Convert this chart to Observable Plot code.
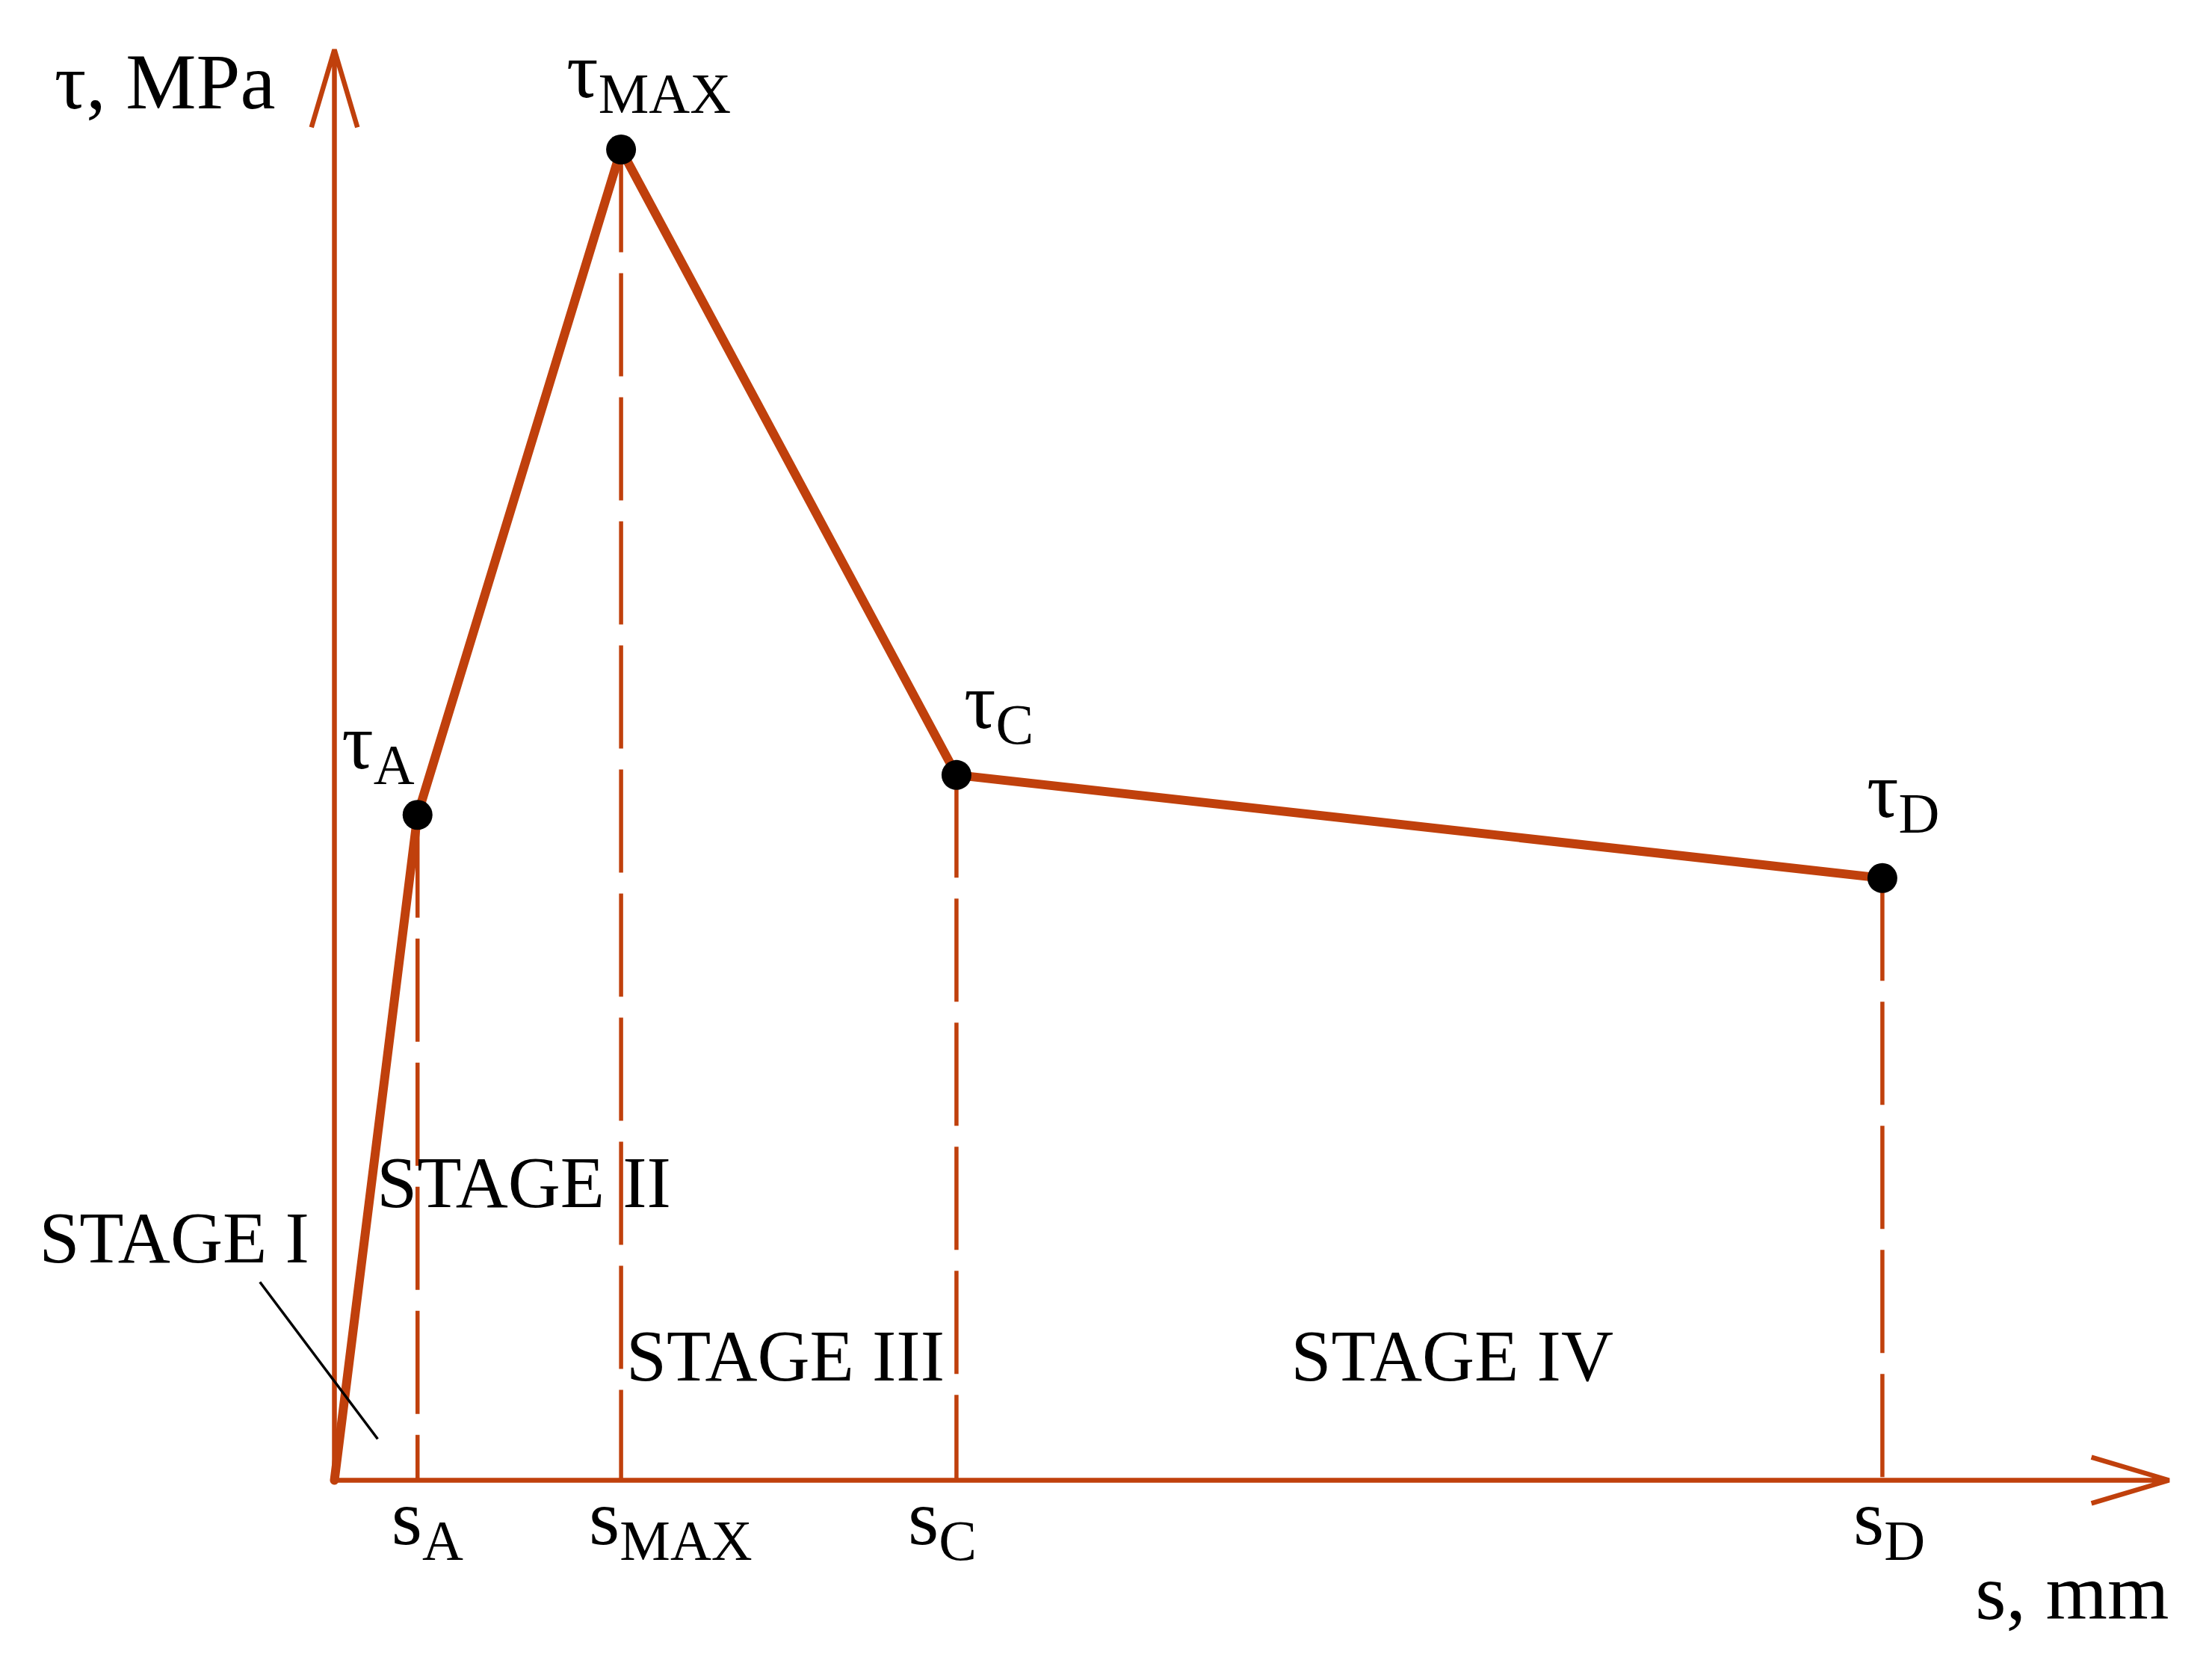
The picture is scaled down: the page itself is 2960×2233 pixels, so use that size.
<!DOCTYPE html>
<html>
<head>
<meta charset="utf-8">
<script src="https://cdn.jsdelivr.net/npm/d3@7"></script>
<script src="https://cdn.jsdelivr.net/npm/@observablehq/plot@0.6"></script>
<style>
  html, body { margin: 0; padding: 0; background: #ffffff; }
  svg { display: block; }
</style>
</head>
<body>
<div id="chart"></div>
<script>
// ---- data (schematic bond-slip law) ----
const pointKeys    = ["A", "MAX", "C", "D"];
const slipValues   = [0.29, 1.0, 2.17, 5.4];     // s, mm (schematic)
const stressValues = [10.0, 20.0, 10.6, 9.05];   // τ, MPa (schematic)
const xDomain = [0, 6.4];
const yDomain = [0, 21.5];
const xAxisTitle = "s, mm";
const yAxisTitle = "τ, MPa";
const stageNames  = ["STAGE I", "STAGE II", "STAGE III", "STAGE IV"];
const stageSlip   = [-1.03, 0.148, 1.018, 3.337];
const stageStress = [3.27, 4.11, 1.50, 1.50];
const leaderSlip   = [-0.26, 0.151];
const leaderStress = [2.98, 0.62];

// ---- derived tables ----
const points = pointKeys.map((k, i) => ({key: k, s: slipValues[i], tau: stressValues[i]}));
const curve = [{s: 0, tau: 0}, ...points];
const stages = stageNames.map((n, i) => ({name: n, s: stageSlip[i], tau: stageStress[i]}));
const leader = [{x1: leaderSlip[0], y1: leaderStress[0], x2: leaderSlip[1], y2: leaderStress[1]}];
const axesArrows = [
  {x1: xDomain[0], y1: yDomain[0], x2: xDomain[1], y2: yDomain[0]},
  {x1: xDomain[0], y1: yDomain[0], x2: xDomain[0], y2: yDomain[1]}
];
const subs = new Map();
points.forEach(p => { subs.set("τ" + p.key, ["τ", p.key]); subs.set("s" + p.key, ["s", p.key]); });

const RED = "#c0400c";
const FONT = "Liberation Serif";
const MAIN = 106, SUB = 76, STAGE = 97;

const byKey = k => points.filter(p => p.key === k);
const tauLabel = (k, opts) => Plot.text(byKey(k), {x: "s", y: "tau", text: d => "τ" + d.key,
  fontFamily: FONT, fontSize: MAIN, lineAnchor: "bottom", fill: "black", ...opts});
const sLabel = (k, dx) => Plot.text(byKey(k), {x: "s", y: () => 0, text: d => "s" + d.key,
  fontFamily: FONT, fontSize: MAIN, lineAnchor: "bottom", textAnchor: "start", dx, dy: 85, fill: "black"});

const svg = Plot.plot({
  width: 2960,
  height: 2233,
  marginLeft: 447,
  marginRight: 58,
  marginTop: 66,
  marginBottom: 253,
  style: {background: "#ffffff", fontFamily: FONT, overflow: "visible"},
  x: {domain: xDomain, axis: null},
  y: {domain: yDomain, axis: null},
  marks: [
    Plot.arrow(axesArrows, {x1: "x1", y1: "y1", x2: "x2", y2: "y2", stroke: RED, strokeWidth: 6.5,
      headAngle: 33, headLength: 25, strokeLinecap: "butt"}),
    Plot.ruleX(points, {x: "s", y1: "tau", y2: () => 0, stroke: RED, strokeWidth: 5.5, strokeDasharray: "138,28"}),
    Plot.line(curve, {x: "s", y: "tau", stroke: RED, strokeWidth: 12}),
    Plot.dot(points, {x: "s", y: "tau", r: 20, fill: "black", stroke: null}),
    Plot.link(leader, {x1: "x1", y1: "y1", x2: "x2", y2: "y2", stroke: "black", strokeWidth: 3.5}),
    tauLabel("A",   {textAnchor: "end",   dx: -4,  dy: -62}),
    tauLabel("MAX", {textAnchor: "start", dx: -73, dy: -70}),
    tauLabel("C",   {textAnchor: "start", dx: 10,  dy: -63}),
    tauLabel("D",   {textAnchor: "start", dx: -21, dy: -82}),
    sLabel("A", -35),
    sLabel("MAX", -43),
    sLabel("C", -65),
    sLabel("D", -39),
    Plot.text(stages, {x: "s", y: "tau", text: "name", fontFamily: FONT, fontSize: STAGE,
      textAnchor: "start", lineAnchor: "bottom", fill: "black"}),
    Plot.text([yAxisTitle], {x: () => xDomain[0], y: () => yDomain[1], text: d => d, fontFamily: FONT,
      fontSize: MAIN, textAnchor: "end", lineAnchor: "bottom", dx: -79, dy: 78, fill: "black"}),
    Plot.text([xAxisTitle], {x: () => xDomain[1], y: () => yDomain[0], text: d => d, fontFamily: FONT,
      fontSize: MAIN, textAnchor: "end", lineAnchor: "bottom", dx: 0, dy: 185, fill: "black"})
  ]
});

// subscripts as real text (tspans)
const NS = "http://www.w3.org/2000/svg";
svg.querySelectorAll("text").forEach(t => {
  const parts = subs.get(t.textContent);
  if (!parts) return;
  t.textContent = "";
  const a = document.createElementNS(NS, "tspan");
  a.textContent = parts[0];
  const b = document.createElementNS(NS, "tspan");
  b.setAttribute("font-size", SUB);
  b.setAttribute("dy", 21);
  b.textContent = parts[1];
  t.append(a, b);
});

document.getElementById("chart").append(svg);
</script>
</body>
</html>
